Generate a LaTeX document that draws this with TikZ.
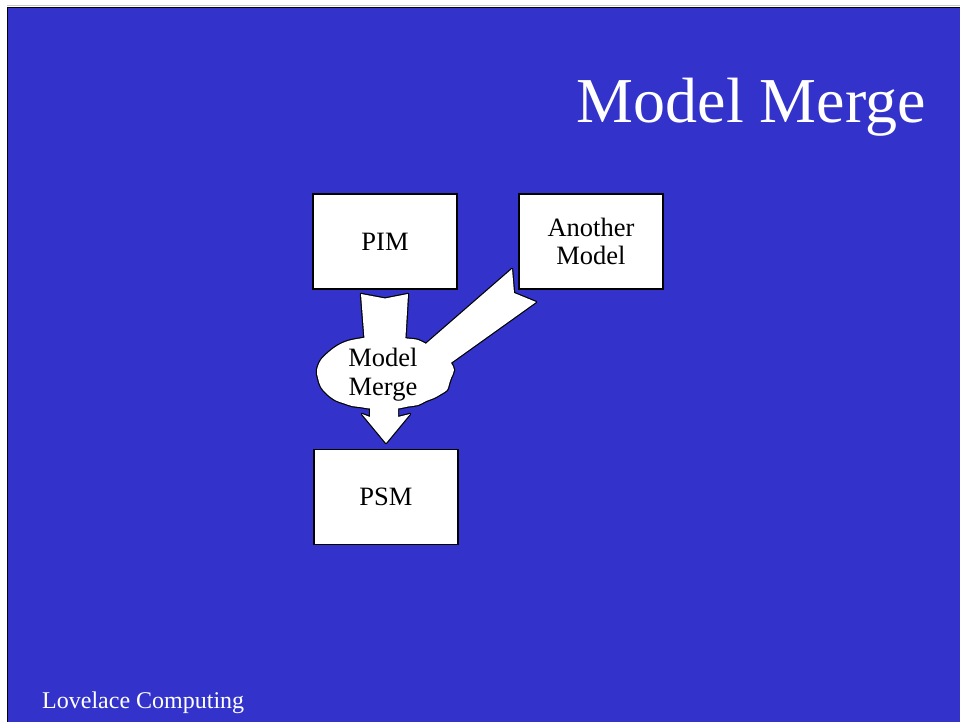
\documentclass[tikz,border=0pt]{standalone}
\usepackage{fontspec}
\setmainfont{Liberation Serif}
\definecolor{slideblue}{HTML}{3333CC}
\begin{document}
\begin{tikzpicture}[x=1pt,y=-1pt,
  modelbox/.style={draw=black, line width=1.4pt, fill=white, minimum width=144pt, minimum height=95pt, inner sep=0pt, align=center, font=\fontsize{26.5}{28}\selectfont},
  blobtext/.style={align=center, font=\fontsize{26.5}{29}\selectfont, inner sep=0pt},
  outer/.style={draw=black, line width=2.4pt, fill=white, line join=round},
  inner/.style={fill=white}]
\useasboundingbox (0,0) rectangle (960,722);
\fill[white] (0,0) rectangle (960,722);
\draw[gray!45, line width=1pt] (7,6) -- (960,6);
\draw[black, line width=1pt] (7,7.5) -- (960,7.5);
\draw[black, line width=1pt] (7.5,7) -- (7.5,722);
\fill[slideblue] (8,8.5) rectangle (960,722);

\node[text=white, anchor=base east, inner sep=0pt, font=\fontsize{64}{70}\selectfont] (title) at (926,123) {Model Merge};
\node[text=white, anchor=base west, inner sep=0pt, font=\fontsize{24}{28}\selectfont] (footer) at (42,708) {Lovelace Computing};

\node[modelbox] (pim) at (385,241.5) {PIM};
\node[modelbox] (another) at (591,241.5) {Another\\Model};
\node[modelbox] (psm) at (386,497) {PSM};

% merge shape: union of cloud and three block arrows
\def\downin{(365,345) -- (361,294) -- (385,298.5) -- (408,294) -- (405,345) -- cycle}
\def\diagin{(420,349) -- (512,269) -- (514,293) -- (536,302) -- (445,367) -- cycle}
\def\downout{(370,400) -- (370,417) -- (362,414) -- (386,443) -- (410,414) -- (398,417) -- (398,400) -- cycle}
\def\cloud{plot[smooth cycle, tension=0.6] coordinates {(385,336) (398,337) (407,338.5) (418,340) (428,345) (440,351) (446,357) (451,363) (454,370) (451,378) (449,384) (447,390) (441,394) (434,398) (426,401) (418,405) (408,406.5) (398,408.5) (385,409) (370,408.5) (360,407) (352,406) (343,403) (335,400) (327,394) (321,387) (318,378) (317,370) (321,360) (329,352) (337,346) (348,341) (363,338) (374,336.5)}}
\path[outer] \downin;
\path[outer] \diagin;
\path[outer] \downout;
\path[outer] \cloud;
\path[inner] \downin;
\path[inner] \diagin;
\path[inner] \downout;
\path[inner] \cloud;
\node[blobtext] (merge) at (383,375) {Model\\Merge};
\end{tikzpicture}
\end{document}
